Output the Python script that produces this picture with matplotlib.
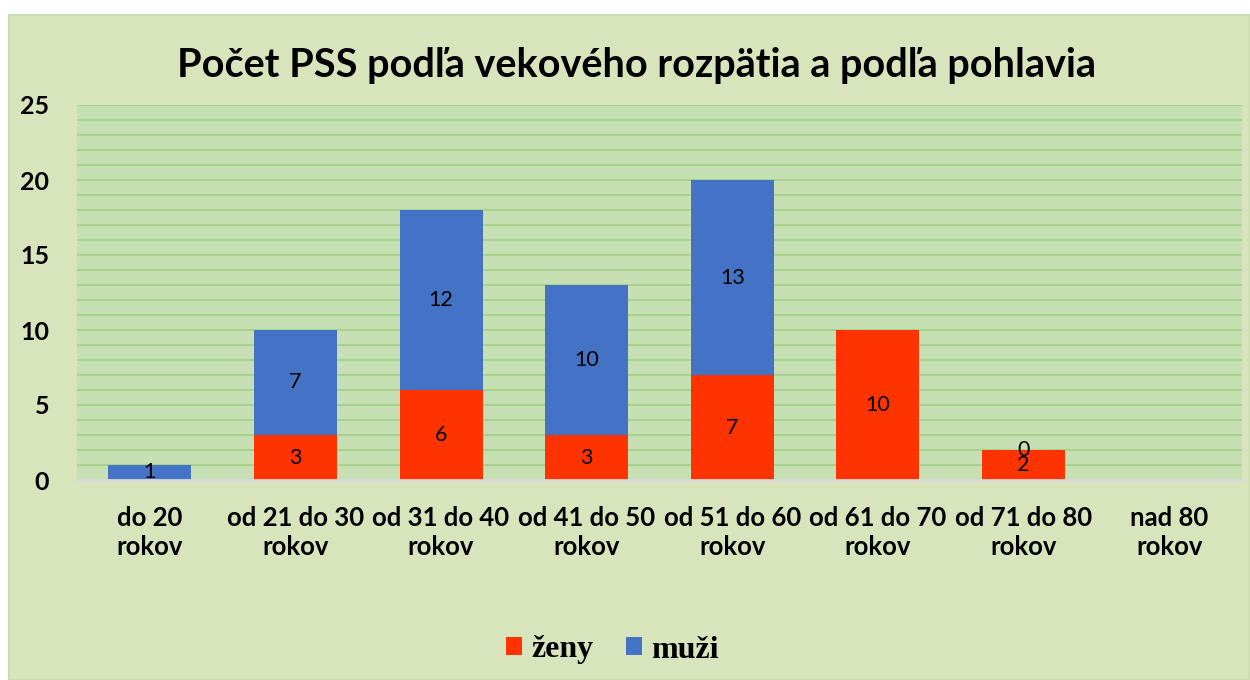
import matplotlib.pyplot as plt
from matplotlib.patches import Rectangle
from matplotlib.ticker import MultipleLocator
import numpy as np

categories = ['do 20\nrokov', 'od 21 do 30\nrokov', 'od 31 do 40\nrokov', 'od 41 do 50\nrokov',
              'od 51 do 60\nrokov', 'od 61 do 70\nrokov', 'od 71 do 80\nrokov', 'nad 80\nrokov']
zeny = [0, 3, 6, 3, 7, 10, 2, 0]
muzi = [1, 7, 12, 10, 13, 0, 0, 0]
# which labels are shown in the original (None = hidden)
zeny_labels = [None, 3, 6, 3, 7, 10, 2, None]
muzi_labels = [1, 7, 12, 10, 13, None, 0, None]

c_zeny = '#FF3300'
c_muzi = '#4472C4'

fig = plt.figure(figsize=(12.5, 6.8), dpi=100)
fig.patch.set_facecolor('white')
fig.patches.append(Rectangle((9 / 1250, 0), 1 - 9 / 1250, 1 - 15 / 680, transform=fig.transFigure,
                             facecolor='#D8E4BC', edgecolor='#C3DDB0', linewidth=1.5, zorder=-10))

ax = fig.add_axes([77 / 1250, 1 - 480 / 680, (1242 - 77) / 1250, (480 - 105) / 680])
ax.set_facecolor('#C6E0B4')

x = np.arange(len(categories))
w = 0.57
b1 = ax.bar(x, zeny, w, color=c_zeny, label='ženy', zorder=3)
b2 = ax.bar(x, muzi, w, bottom=zeny, color=c_muzi, label='muži', zorder=3)

for i in range(len(categories)):
    if zeny_labels[i] is not None:
        ax.text(x[i], zeny[i] / 2, str(zeny_labels[i]), ha='center', va='center',
                fontsize=15.5, family='Lato', zorder=5)
    if muzi_labels[i] is not None:
        ax.text(x[i], zeny[i] + muzi[i] / 2, str(muzi_labels[i]), ha='center', va='center',
                fontsize=15.5, family='Lato', zorder=5)

ax.set_xlim(-0.5, len(categories) - 0.5)
ax.set_ylim(0, 25)
ax.yaxis.set_major_locator(MultipleLocator(5))
ax.yaxis.set_minor_locator(MultipleLocator(1))
ax.grid(axis='y', which='both', color='#A9D18E', linewidth=1.5, zorder=1)
ax.set_axisbelow(True)

for s in ['top', 'right', 'left']:
    ax.spines[s].set_visible(False)
ax.spines['bottom'].set_color('#D9D9D9')
ax.spines['bottom'].set_linewidth(2)
ax.spines['bottom'].set_zorder(4)

ax.tick_params(axis='both', which='both', length=0)
ax.tick_params(axis='y', pad=20)
ax.tick_params(axis='x', pad=19)
ax.set_xticks(x)
ax.set_xticklabels(categories, fontsize=18.5, fontweight='bold', family='Lato', linespacing=1.25)
for lab in ax.get_yticklabels():
    lab.set_fontsize(18)
    lab.set_fontweight('bold')
    lab.set_family('Lato')

fig.text(0.509, 1 - 66 / 680, 'Počet PSS podľa vekového rozpätia a podľa pohlavia', ha='center', va='center',
         fontsize=28.5, fontweight='bold', family='Lato')

fig.legend(handles=[b1, b2], loc='center', bbox_to_anchor=(0.49, 1 - 650 / 680), ncol=2, frameon=False,
           prop={'family': 'Liberation Serif', 'weight': 'bold', 'size': 23}, handlelength=0.5,
           handleheight=0.5, handletextpad=0.3, columnspacing=1.0)

fig.savefig('out.png', dpi=100, facecolor=fig.get_facecolor())
